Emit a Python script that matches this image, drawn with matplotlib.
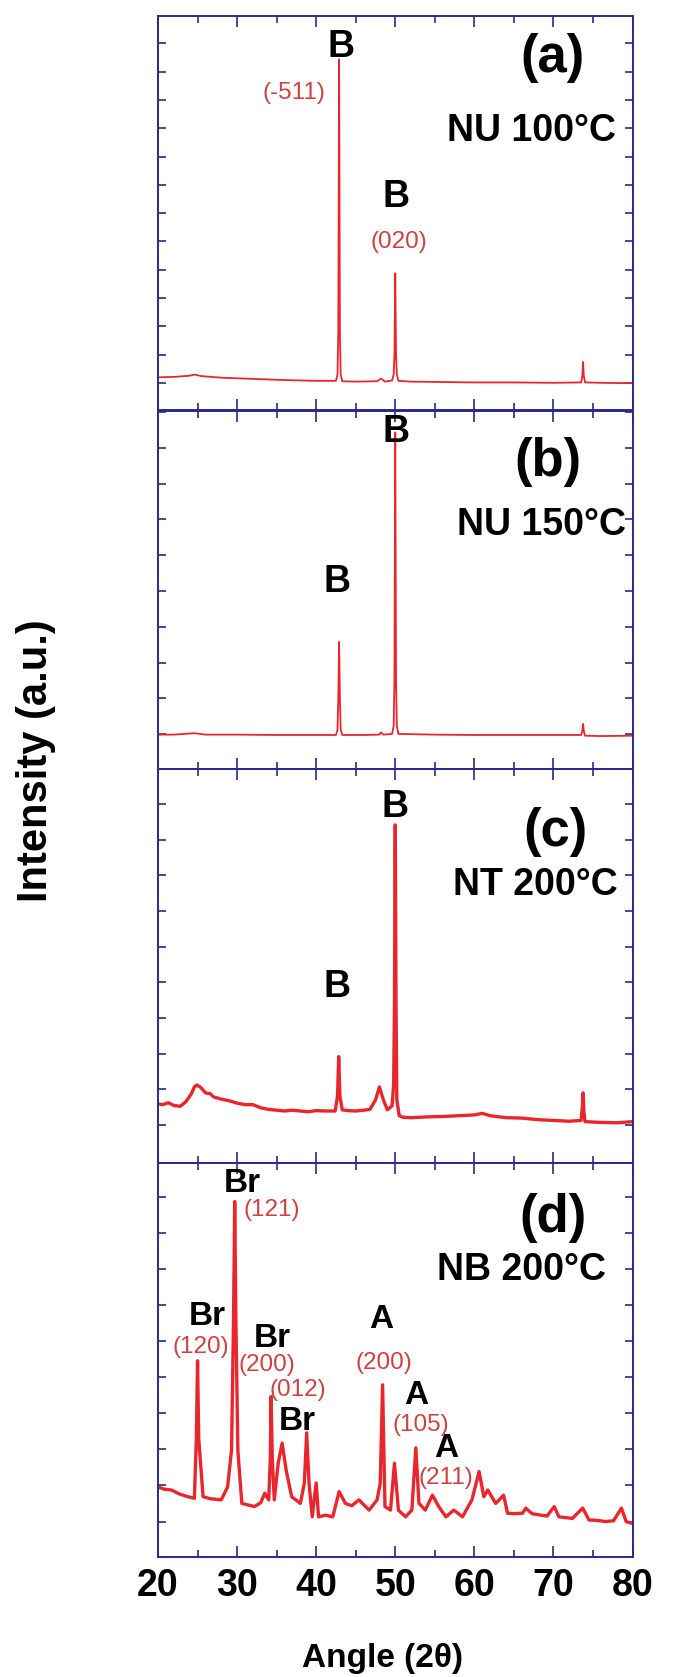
import numpy as np
import matplotlib
matplotlib.use("Agg")
import matplotlib.pyplot as plt
from matplotlib.ticker import MultipleLocator

plt.rcParams['font.family'] = ['Liberation Sans', 'DejaVu Sans']

# ---- data (angle 2theta, intensity a.u. on a 0-100 scale per panel) ----
angle_a = [20, 22, 24.0, 24.6, 25.5, 28, 32, 36, 40, 42.5, 42.7, 42.8, 42.9, 43.0, 43.1, 43.3,
           45, 47.7, 48.2, 48.7, 49.6, 49.8, 49.9, 50.0, 50.1, 50.2, 50.4,
           52, 56, 60, 65, 70, 73.5, 73.65, 73.75, 73.85, 74.0, 76, 80]
int_a = [8.3, 8.4, 8.7, 9.0, 8.6, 8.2, 7.9, 7.6, 7.4, 7.4, 9.0, 20, 89, 20, 9.0, 7.3,
         7.2, 7.3, 8.0, 7.2, 7.5, 9.0, 14, 34.7, 14, 9.0, 7.4,
         7.2, 7.1, 7.0, 7.0, 6.9, 7.0, 8.5, 12.2, 8.5, 7.0, 6.9, 6.8]

angle_b = [20, 22, 24.6, 26, 30, 35, 40, 42.5, 42.7, 42.8, 42.9, 43.0, 43.1, 43.3,
           46, 48.0, 48.2, 48.5, 49.6, 49.8, 49.9, 50.0, 50.1, 50.2, 50.4,
           55, 60, 65, 70, 73.5, 73.65, 73.75, 73.85, 74.0, 76, 80]
int_b = [9.6, 9.6, 10.0, 9.6, 9.6, 9.5, 9.5, 9.5, 11, 20, 35.5, 20, 11, 9.5,
         9.5, 9.6, 10.2, 9.6, 9.8, 12, 25, 94, 25, 12, 9.8,
         9.6, 9.5, 9.5, 9.5, 9.5, 10.5, 12.6, 10.5, 9.3, 9.2, 9.3]

angle_c = [20, 20.6, 21.3, 22.0, 22.8, 23.5, 24.2, 24.6, 24.9, 25.4, 26, 26.6, 27, 28, 29, 30, 31, 32, 33,
           34, 35, 36, 37, 38, 39, 40, 41, 42.4, 42.7, 42.85, 43.0, 43.3,
           44, 45, 46, 46.8, 47.5, 48.0, 48.5, 49.0, 49.6, 49.8, 49.9, 50.0, 50.1, 50.2, 50.5,
           51, 52, 54, 56, 58, 60, 61, 62, 64, 66, 68, 70, 72, 73.5, 73.65, 73.75, 73.85, 74.0,
           75, 76, 78, 80]
int_c = [15.0, 14.8, 15.3, 14.6, 14.4, 15.5, 17.5, 19.3, 19.8, 19.2, 17.8, 17.6, 16.8, 16.2, 15.8, 15.2, 14.8, 14.8, 14.0,
         13.6, 13.4, 13.2, 13.4, 13.2, 13.0, 13.3, 13.2, 13.2, 17, 27, 17, 13.5,
         13.3, 13.2, 13.4, 13.6, 16, 19.3, 16, 13.5, 14.5, 20, 40, 85.8, 40, 16, 12,
         11.6, 11.5, 11.7, 11.8, 12.0, 12.2, 12.6, 12.0, 11.5, 11.4, 11.0, 10.8, 10.6, 10.8, 14, 17.8, 13, 10.5,
         10.4, 10.3, 10.2, 10.5]

angle_d = [20.0, 20.8, 21.7, 22.7, 23.8, 24.6, 24.85, 25.0, 25.15, 25.7, 26.6, 28.0, 28.8, 29.3, 29.55, 29.7,
           29.85, 30.1, 30.6, 31.4, 32.2, 33.0, 33.5, 34.0, 34.2, 34.3, 34.45, 34.7, 35.2, 35.7, 36.2,
           36.9, 38.0, 38.5, 38.8, 39.1, 39.5, 40.0, 40.3, 41.2, 42.1, 42.9, 43.7, 44.5, 45.4,
           46.7, 47.7, 48.1, 48.4, 48.7, 49.4, 49.9, 50.4, 51.3, 52.1, 52.6, 53.0, 53.8, 54.7,
           55.5, 56.4, 57.4, 58.5, 59.7, 60.6, 61.2, 61.7, 62.7, 63.7, 64.2, 65.0, 66.1, 66.5,
           67.3, 68.2, 69.2, 70.1, 70.7, 71.5, 72.4, 73.7, 74.5, 75.5, 76.6, 77.6, 78.6, 79.2, 80.0]
int_d = [17.8, 17.2, 17.0, 16.0, 15.3, 14.9, 30, 49.8, 30, 15.3, 14.8, 14.5, 17.8, 27.2, 60, 90.2,
         60, 27, 13.6, 13.2, 12.8, 13.8, 16.2, 14.5, 25, 40.7, 25, 14.5, 23.8, 28.9, 22.1,
         15.3, 13.6, 18.7, 31.5, 18.7, 10.2, 18.8, 10.2, 10.6, 10.2, 16.6, 13.6, 13.0, 14.5,
         11.9, 14.5, 18.7, 43.7, 12.8, 11.9, 23.8, 11.9, 10.2, 11.9, 27.7, 13.6, 11.9, 15.7,
         12.8, 10.2, 11.9, 10.2, 14.5, 21.7, 15.3, 17.0, 13.6, 15.7, 11.1, 11.0, 11.1, 12.4,
         11.0, 10.7, 10.4, 12.8, 10.2, 10.0, 9.8, 12.4, 9.4, 9.3, 9.0, 9.2, 12.4, 9.0, 8.5]

angles = [angle_a, angle_b, angle_c, angle_d]
intensities = [int_a, int_b, int_c, int_d]

panel_tags = ['(a)', '(b)', '(c)', '(d)']
sample_names = ['NU 100°C', 'NU 150°C', 'NT 200°C', 'NB 200°C']

# phase labels: (panel, text, angle, height)
phase_labels = [
    (0, 'B', 43.1, 92.2), (0, 'B', 50.1, 54.1),
    (1, 'B', 50.1, 94.2), (1, 'B', 42.7, 52.3),
    (2, 'B', 50.0, 90.4), (2, 'B', 42.7, 44.7),
    (3, 'Br', 30.65, 94.8), (3, 'Br', 26.2, 61.0), (3, 'Br', 34.45, 55.5), (3, 'Br', 37.6, 34.3),
    (3, 'A', 48.2, 60.2), (3, 'A', 52.6, 41.1), (3, 'A', 56.4, 27.6),
]
# hkl labels: (panel, text, angle, height)
hkl_labels = [
    (0, '(-511)', 37.2, 80.4), (0, '(020)', 50.4, 42.7),
    (3, '(121)', 34.4, 88.1), (3, '(120)', 25.4, 53.4), (3, '(200)', 33.8, 48.7),
    (3, '(012)', 37.7, 42.4), (3, '(200)', 48.6, 49.2), (3, '(105)', 53.2, 33.5),
    (3, '(211)', 56.4, 20.0),
]

tag_pos = [(69.9, 89.3), (69.3, 85.8), (70.3, 84.1), (70.0, 86.0)]
name_pos = [(67.2, 70.9), (68.5, 68.2), (67.7, 70.6), (66.0, 72.8)]
ytick_start = [6.9, 9.7, 9.6, 9.0]
ytick_step = [7.18, 10.0, 9.06, 9.16]
line_w = [1.3, 1.3, 2.4, 2.4]

# ---- layout ----
W, H = 694, 1677
fig = plt.figure(figsize=(W / 100, H / 100), dpi=100)
left, right = 158, 632.5
panel_px = [(16, 410), (411, 769), (769, 1163), (1163, 1557)]
navy = '#2a2a8a'
line_col = '#e8262b'
hkl_col = '#cf4040'

axes = []
for i, (top, bot) in enumerate(panel_px):
    ax = fig.add_axes([left / W, 1 - bot / H, (right - left) / W, (bot - top) / H])
    axes.append(ax)
    ax.plot(angles[i], intensities[i], color=line_col, lw=line_w[i], solid_joinstyle='round')
    ax.set_xlim(20, 80)
    ax.set_ylim(0, 100)
    ax.xaxis.set_major_locator(MultipleLocator(10))
    ax.xaxis.set_minor_locator(MultipleLocator(5))
    ax.set_yticks(np.arange(ytick_start[i], 100, ytick_step[i]))
    ax.tick_params(axis='both', which='both', direction='in', top=True, right=True,
                   color=navy, width=1.2)
    ax.tick_params(axis='x', which='major', length=8)
    ax.tick_params(axis='x', which='minor', length=5)
    ax.tick_params(axis='y', length=6)
    ax.set_yticklabels([])
    for sp in ax.spines.values():
        sp.set_color(navy)
        sp.set_linewidth(1.4)
    if i < 3:
        ax.set_xticklabels([])

    ax.text(*tag_pos[i], panel_tags[i], fontsize=38, fontweight='bold', ha='center', va='center',
            family=['Liberation Sans Narrow', 'Liberation Sans'])
    ax.text(*name_pos[i], sample_names[i], fontsize=27, fontweight='bold', ha='center', va='center')

for p, txt, x, y in phase_labels:
    axes[p].text(x, y, txt, fontsize=27 if p < 3 else 24, fontweight='bold', ha='center', va='center')
for p, txt, x, y in hkl_labels:
    axes[p].text(x, y, txt, fontsize=17.5, color=hkl_col, ha='center', va='center')

axd = axes[3]
axd.tick_params(axis='x', which='major', labelsize=27, pad=8)
for lab in axd.get_xticklabels():
    lab.set_fontweight('bold')

fig.text(382 / W, 1 - 1658 / H, 'Angle (2θ)', fontsize=24, fontweight='bold',
         ha='center', va='center')
fig.text(35.7 / W, 1 - 761 / H, 'Intensity (a.u.)', rotation=90, fontsize=30, fontweight='bold',
         ha='center', va='center')

fig.savefig('out.png', dpi=100)
